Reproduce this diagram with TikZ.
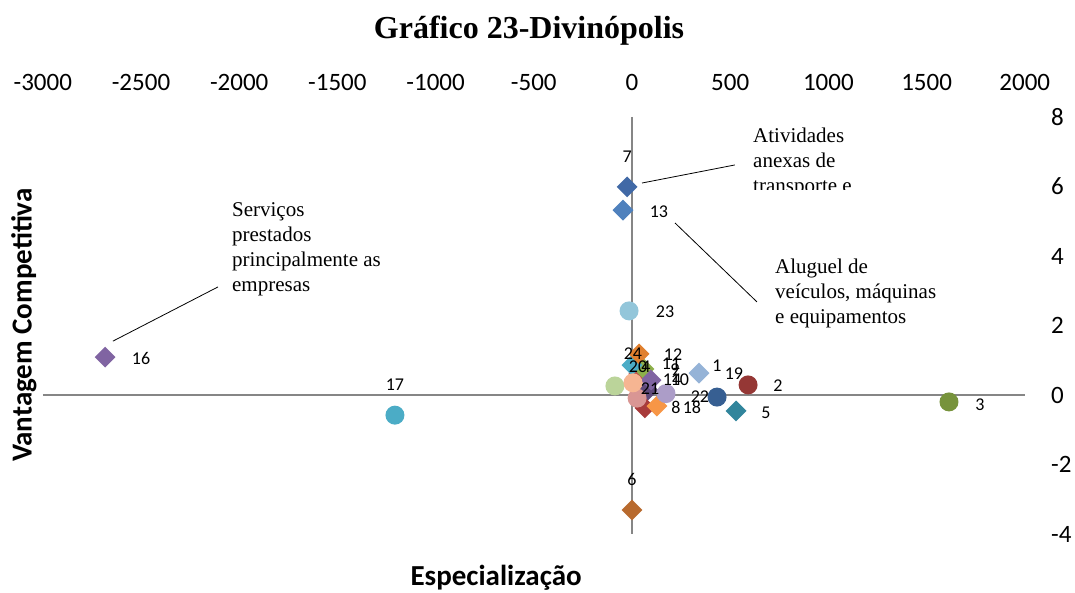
\documentclass[tikz,border=0pt]{standalone}
\usepackage{fontspec}
\setmainfont{Liberation Serif}
\newfontfamily\calibri{Carlito}
\usetikzlibrary{shapes.geometric}

\definecolor{axisgray}{HTML}{868686}
\definecolor{cBlueD}{HTML}{4169A6}
\definecolor{cBlue}{HTML}{4F81BD}
\definecolor{cBlueL}{HTML}{93C6DA}
\definecolor{cBlueG}{HTML}{95B3D7}
\definecolor{cNavy}{HTML}{375F92}
\definecolor{cPurple}{HTML}{8064A2}
\definecolor{cPurpleD}{HTML}{604A7B}
\definecolor{cLilac}{HTML}{AC9DC8}
\definecolor{cCyan}{HTML}{4BACC6}
\definecolor{cTeal}{HTML}{31859C}
\definecolor{cBrown}{HTML}{B86A2E}
\definecolor{cOlive}{HTML}{77933C}
\definecolor{cGreen}{HTML}{8DB04A}
\definecolor{cGreenL}{HTML}{BBD49A}
\definecolor{cRedD}{HTML}{953735}
\definecolor{cRed}{HTML}{C0504D}
\definecolor{cRedM}{HTML}{A83B3B}
\definecolor{cOrange}{HTML}{E0802F}
\definecolor{cOrangeL}{HTML}{F79646}
\definecolor{cPeach}{HTML}{F6B592}
\definecolor{cPink}{HTML}{D99694}

\tikzset{
  dia/.style={diamond, fill=#1, inner sep=0pt, minimum width=21pt, minimum height=21pt},
  dot/.style={circle, fill=#1, inner sep=0pt, minimum size=19pt},
  lbl/.style={font=\calibri\fontsize{18}{21}\selectfont, inner sep=0pt},
  ticklbl/.style={font=\calibri\fontsize{25}{30}\selectfont, inner sep=0pt},
  note/.style={font=\fontsize{21}{24.7}\selectfont, align=left, inner sep=0pt, anchor=north west},
  axtitle/.style={font=\calibri\bfseries\fontsize{29}{34}\selectfont, inner sep=0pt},
  callout/.style={draw=black, line width=0.8pt}
}

\begin{document}
\begin{tikzpicture}[x=1pt, y=1pt]
  \useasboundingbox (0,0) rectangle (1075,593);
  \node (title) at (529,562) {\fontsize{32}{38}\selectfont\bfseries Gráfico 23-Divinópolis};

  \begin{scope}[shift={(632,198)}, x=0.1964pt, y=34.75pt]
  % axes
  \draw[axisgray, line width=1.6pt] (-3000,0) -- (2000,0);
  \draw[axisgray, line width=1.6pt] (0,8) -- (0,-4);
  \foreach \v [count=\i] in {-3000,-2500,...,2000}
    \node[ticklbl] (xt\i) at (\v,9.0) {\v};
  \foreach \v [count=\i] in {-4,-2,...,8}
    \node[ticklbl, anchor=west] (yt\i) at (2133,\v) {\v};
  \node[axtitle] (xtitle) at (-692,-5.27) {Especialização};
  \node[axtitle, rotate=90] (ytitle) at (-3096,2.01) {Vantagem Competitiva};

  % points
  \node[dia=cBlueD] (p7) at (-25,5.99) {};
  \node[dia=cBlue] (p13) at (-46,5.32) {};
  \node[dot=cBlueL] (p23) at (-15,2.42) {};
  \node[dia=cPurple] (p16) at (-2683,1.09) {};
  \node[dot=cCyan] (p17) at (-1207,-0.58) {};
  \node[dia=cBrown] (p6) at (0,-3.31) {};
  \node[dot=cOlive] (p3) at (1614,-0.20) {};
  \node[dia=cTeal] (p5) at (530,-0.46) {};
  \node[dot=cRedD] (p2) at (591,0.29) {};
  \node[dia=cBlueG] (p19) at (341,0.63) {};
  \node[dot=cNavy] (p1) at (433,-0.06) {};
  \node[dot=cRed] (p20) at (31,0.60) {};
  \node[dia=cGreen] (p9) at (61,0.75) {};
  \node[dia=cCyan] (p11) at (0,0.86) {};
  \node[dia=cOrange] (p12) at (36,1.18) {};
  \node[dia=cPurpleD] (p4) at (81,0.14) {};
  \node[dia=cPurple] (p10) at (97,0.43) {};
  \node[dia=cRedM] (p8) at (66,-0.37) {};
  \node[dia=cOrangeL] (p18) at (127,-0.32) {};
  \node[dot=cPink] (p24) at (26,-0.09) {};
  \node[dot=cGreenL] (p21) at (-87,0.26) {};
  \node[dot=cPeach] (p14) at (5,0.35) {};
  \node[dot=cLilac] (p22) at (173,0.04) {};

  % point labels
  \node[lbl] (l7) at (-25,6.85) {7};
  \node[lbl] (l13) at (137,5.27) {13};
  \node[lbl] (l23) at (168,2.39) {23};
  \node[lbl] (l16) at (-2500,1.06) {16};
  \node[lbl] (l17) at (-1207,0.29) {17};
  \node[lbl] (l6) at (0,-2.42) {6};
  \node[lbl] (l3) at (1772,-0.29) {3};
  \node[lbl] (l5) at (682,-0.52) {5};
  \node[lbl] (l2) at (743,0.26) {2};
  \node[lbl] (l1) at (433,0.83) {1};
  \node[lbl] (l19) at (519,0.60) {19};
  \node[lbl] (l22) at (346,-0.06) {22};
  \node[lbl] (l14) at (204,0.43) {14};
  \node[lbl] (l10) at (244,0.43) {10};
  \node[lbl] (l9) at (219,0.72) {9};
  \node[lbl] (l11) at (199,0.89) {11};
  \node[lbl] (l12) at (209,1.15) {12};
  \node[lbl] (l24) at (5,1.18) {24};
  \node[lbl] (l20) at (31,0.81) {20};
  \node[lbl] (l4) at (71,0.81) {4};
  \node[lbl] (l21) at (92,0.17) {21};
  \node[lbl] (l8) at (224,-0.35) {8};
  \node[lbl] (l18) at (305,-0.35) {18};

  % notes
  \begin{scope}
    \clip (575,8.0) rectangle (1365,5.9);
    \node[note] (nTransp) at (616,7.68) {Atividades\\anexas de\\transporte e};
  \end{scope}
  \node[note] (nAluguel) at (728,3.91) {Aluguel de\\veículos, máquinas\\e equipamentos};
  \node[note] (nServ) at (-2037,5.53) {Serviços\\prestados\\principalmente as\\empresas};

  \coordinate (a7) at (51,6.10);
  \coordinate (b7) at (524,6.62);
  \coordinate (a13) at (219,4.95);
  \coordinate (b13) at (636,2.68);
  \coordinate (a16) at (-2643,1.55);
  \coordinate (b16) at (-2108,3.11);
  \draw[callout] (a7) -- (b7);
  \draw[callout] (a13) -- (b13);
  \draw[callout] (a16) -- (b16);
  \end{scope}
\end{tikzpicture}
\end{document}
